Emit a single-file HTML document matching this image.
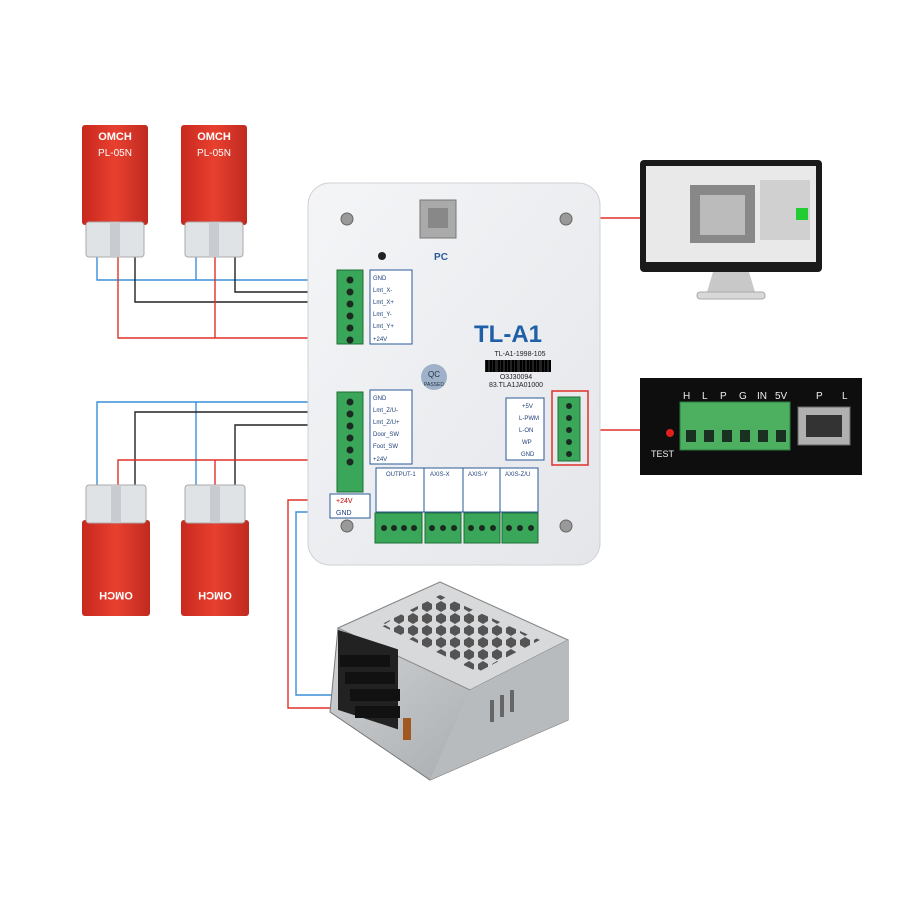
<!DOCTYPE html>
<html><head><meta charset="utf-8"><style>
html,body{margin:0;padding:0;background:#fff}
svg{display:block}
text{font-family:"Liberation Sans",sans-serif}
</style></head><body>
<svg width="900" height="900" viewBox="0 0 900 900">
<defs>
<linearGradient id="board" x1="0" y1="0" x2="1" y2="1"><stop offset="0" stop-color="#f4f5f7"/><stop offset="1" stop-color="#e4e6ea"/></linearGradient>
<linearGradient id="red" x1="0" y1="0" x2="1" y2="0"><stop offset="0" stop-color="#c8281e"/><stop offset=".5" stop-color="#e8402f"/><stop offset="1" stop-color="#c02a20"/></linearGradient>
<linearGradient id="psu" x1="0" y1="0" x2="1" y2="1"><stop offset="0" stop-color="#d8dadc"/><stop offset="1" stop-color="#9ea2a6"/></linearGradient>
<pattern id="hex" width="14" height="12" patternUnits="userSpaceOnUse"><polygon points="7,1 12,4 12,9 7,12 2,9 2,4" fill="#333"/></pattern>
</defs>

<!-- wires -->
<g fill="none" stroke-width="1.4">
<polyline stroke="#3a8fd8" points="97,240 97,280 340,280"/>
<polyline stroke="#3a8fd8" points="196,240 196,280"/>
<polyline stroke="#222" points="135,240 135,302 345,302"/>
<polyline stroke="#222" points="235,240 235,292 345,292"/>
<polyline stroke="#e0302a" points="118,240 118,338 345,338"/>
<polyline stroke="#e0302a" points="215,240 215,338"/>
<polyline stroke="#3a8fd8" points="97,495 97,402 345,402"/>
<polyline stroke="#3a8fd8" points="196,495 196,402"/>
<polyline stroke="#222" points="135,495 135,412 345,412"/>
<polyline stroke="#222" points="235,495 235,425 345,425"/>
<polyline stroke="#e0302a" points="118,495 118,460 345,460"/>
<polyline stroke="#e0302a" points="215,495 215,460"/>
<polyline stroke="#e0302a" points="440,218 640,218"/>
<polyline stroke="#e0302a" points="588,430 668,430"/>
<polyline stroke="#e0302a" points="330,500 288,500 288,708 385,708"/>
<polyline stroke="#3a8fd8" points="330,512 296,512 296,695 380,695"/>
</g>

<!-- sensors top -->
<g>
<rect x="82" y="125" width="66" height="100" rx="3" fill="url(#red)"/>
<rect x="86" y="222" width="58" height="35" rx="3" fill="#dfe3e6" stroke="#aaa"/>
<rect x="110" y="222" width="10" height="35" fill="#c8ccd0"/>
<text x="115" y="140" font-size="11" fill="#fff" text-anchor="middle" font-weight="bold">OMCH</text>
<text x="115" y="156" font-size="10" fill="#fff" text-anchor="middle">PL-05N</text>
<rect x="181" y="125" width="66" height="100" rx="3" fill="url(#red)"/>
<rect x="185" y="222" width="58" height="35" rx="3" fill="#dfe3e6" stroke="#aaa"/>
<rect x="209" y="222" width="10" height="35" fill="#c8ccd0"/>
<text x="214" y="140" font-size="11" fill="#fff" text-anchor="middle" font-weight="bold">OMCH</text>
<text x="214" y="156" font-size="10" fill="#fff" text-anchor="middle">PL-05N</text>
</g>
<!-- sensors bottom -->
<g>
<rect x="82" y="520" width="68" height="96" rx="3" fill="url(#red)"/>
<rect x="86" y="485" width="60" height="38" rx="3" fill="#dfe3e6" stroke="#aaa"/>
<rect x="111" y="485" width="10" height="38" fill="#c8ccd0"/>
<text x="116" y="600" font-size="11" fill="#fff" text-anchor="middle" font-weight="bold" transform="rotate(180 116 596)">OMCH</text>
<rect x="181" y="520" width="68" height="96" rx="3" fill="url(#red)"/>
<rect x="185" y="485" width="60" height="38" rx="3" fill="#dfe3e6" stroke="#aaa"/>
<rect x="210" y="485" width="10" height="38" fill="#c8ccd0"/>
<text x="215" y="600" font-size="11" fill="#fff" text-anchor="middle" font-weight="bold" transform="rotate(180 215 596)">OMCH</text>
</g>

<!-- board -->
<rect x="308" y="183" width="292" height="382" rx="22" fill="url(#board)" stroke="#cfd2d6"/>
<circle cx="347" cy="219" r="6" fill="#999" stroke="#666"/>
<circle cx="566" cy="219" r="6" fill="#999" stroke="#666"/>
<circle cx="347" cy="526" r="6" fill="#999" stroke="#666"/>
<circle cx="566" cy="526" r="6" fill="#999" stroke="#666"/>
<circle cx="382" cy="256" r="4" fill="#222"/>
<rect x="420" y="200" width="36" height="38" fill="#aaa" stroke="#777"/>
<rect x="428" y="208" width="20" height="20" fill="#888"/>
<text x="441" y="260" font-size="10" font-weight="bold" fill="#2a5a9a" text-anchor="middle">PC</text>
<text x="508" y="342" font-size="24" font-weight="bold" fill="#1f5fa8" text-anchor="middle">TL-A1</text>
<text x="520" y="356" font-size="7" fill="#222" text-anchor="middle">TL-A1-1998-105</text>
<rect x="485" y="360" width="66" height="12" fill="repeating-linear-gradient(90deg,#000 0 1px,#fff 1px 3px)"/>
<g fill="#222">
<rect x="485" y="360" width="1" height="12"/><rect x="488" y="360" width="2" height="12"/><rect x="492" y="360" width="1" height="12"/><rect x="495" y="360" width="3" height="12"/><rect x="500" y="360" width="1" height="12"/><rect x="503" y="360" width="2" height="12"/><rect x="507" y="360" width="1" height="12"/><rect x="510" y="360" width="2" height="12"/><rect x="514" y="360" width="1" height="12"/><rect x="517" y="360" width="3" height="12"/><rect x="522" y="360" width="1" height="12"/><rect x="525" y="360" width="2" height="12"/><rect x="529" y="360" width="1" height="12"/><rect x="532" y="360" width="2" height="12"/><rect x="536" y="360" width="1" height="12"/><rect x="539" y="360" width="3" height="12"/><rect x="544" y="360" width="1" height="12"/><rect x="547" y="360" width="2" height="12"/>
</g>
<text x="516" y="379" font-size="7" fill="#222" text-anchor="middle">O3J30094</text>
<text x="516" y="387" font-size="7" fill="#222" text-anchor="middle">83.TLA1JA01000</text>
<circle cx="434" cy="377" r="13" fill="#9fb1c9"/>
<text x="434" y="377" font-size="8" fill="#234" text-anchor="middle">QC</text>
<text x="434" y="386" font-size="5" fill="#234" text-anchor="middle">PASSED</text>

<!-- input1 -->
<rect x="337" y="270" width="26" height="74" fill="#3aa65a" stroke="#1f6f36"/>
<g fill="#1c2b20"><circle cx="350" cy="280" r="3.5"/><circle cx="350" cy="292" r="3.5"/><circle cx="350" cy="304" r="3.5"/><circle cx="350" cy="316" r="3.5"/><circle cx="350" cy="328" r="3.5"/><circle cx="350" cy="340" r="3.5"/></g>
<rect x="370" y="270" width="42" height="74" fill="#fff" stroke="#2a5a9a"/>
<g font-size="6" fill="#1f3f7a"><text x="373" y="280">GND</text><text x="373" y="292">Lmt_X-</text><text x="373" y="304">Lmt_X+</text><text x="373" y="316">Lmt_Y-</text><text x="373" y="328">Lmt_Y+</text><text x="373" y="341">+24V</text></g>
<!-- input2 -->
<rect x="337" y="392" width="26" height="100" fill="#3aa65a" stroke="#1f6f36"/>
<g fill="#1c2b20"><circle cx="350" cy="402" r="3.5"/><circle cx="350" cy="414" r="3.5"/><circle cx="350" cy="426" r="3.5"/><circle cx="350" cy="438" r="3.5"/><circle cx="350" cy="450" r="3.5"/><circle cx="350" cy="462" r="3.5"/></g>
<rect x="370" y="390" width="42" height="74" fill="#fff" stroke="#2a5a9a"/>
<g font-size="6" fill="#1f3f7a"><text x="373" y="400">GND</text><text x="373" y="412">Lmt_Z/U-</text><text x="373" y="424">Lmt_Z/U+</text><text x="373" y="436">Door_SW</text><text x="373" y="448">Foot_SW</text><text x="373" y="461">+24V</text></g>
<!-- power label -->
<rect x="330" y="494" width="40" height="24" fill="#fff" stroke="#2a5a9a"/>
<text x="336" y="503" font-size="7" fill="#c00">+24V</text><text x="336" y="515" font-size="7" fill="#1f3f7a">GND</text>
<!-- laser -->
<rect x="506" y="398" width="38" height="62" fill="#fff" stroke="#2a5a9a"/>
<g font-size="6" fill="#1f3f7a"><text x="522" y="408">+5V</text><text x="519" y="420">L-PWM</text><text x="519" y="432">L-ON</text><text x="522" y="444">WP</text><text x="521" y="456">GND</text></g>
<rect x="558" y="397" width="22" height="64" fill="#3aa65a" stroke="#1f6f36"/>
<g fill="#1c2b20"><circle cx="569" cy="406" r="3"/><circle cx="569" cy="418" r="3"/><circle cx="569" cy="430" r="3"/><circle cx="569" cy="442" r="3"/><circle cx="569" cy="454" r="3"/></g>
<rect x="552" y="391" width="36" height="74" fill="none" stroke="#e0302a" stroke-width="1.5"/>
<!-- outputs -->
<rect x="376" y="468" width="162" height="44" fill="#fff" stroke="#2a5a9a"/>
<g font-size="6" fill="#1f3f7a"><text x="386" y="476">OUTPUT-1</text><text x="430" y="476">AXIS-X</text><text x="468" y="476">AXIS-Y</text><text x="505" y="476">AXIS-Z/U</text></g>
<g stroke="#2a5a9a"><line x1="424" y1="468" x2="424" y2="512"/><line x1="463" y1="468" x2="463" y2="512"/><line x1="500" y1="468" x2="500" y2="512"/></g>
<g fill="#3aa65a" stroke="#1f6f36"><rect x="375" y="513" width="47" height="30"/><rect x="425" y="513" width="36" height="30"/><rect x="464" y="513" width="36" height="30"/><rect x="502" y="513" width="36" height="30"/></g>
<g fill="#1c2b20"><circle cx="384" cy="528" r="3"/><circle cx="394" cy="528" r="3"/><circle cx="404" cy="528" r="3"/><circle cx="414" cy="528" r="3"/><circle cx="432" cy="528" r="3"/><circle cx="443" cy="528" r="3"/><circle cx="454" cy="528" r="3"/><circle cx="471" cy="528" r="3"/><circle cx="482" cy="528" r="3"/><circle cx="493" cy="528" r="3"/><circle cx="509" cy="528" r="3"/><circle cx="520" cy="528" r="3"/><circle cx="531" cy="528" r="3"/></g>

<!-- monitor -->
<rect x="640" y="160" width="182" height="112" rx="4" fill="#1a1a1a"/>
<rect x="646" y="166" width="170" height="96" fill="#e9e9e9"/>
<rect x="690" y="185" width="65" height="58" fill="#888"/>
<rect x="700" y="195" width="45" height="40" fill="#bbb"/>
<rect x="760" y="180" width="50" height="60" fill="#d0d0d0"/>
<rect x="796" y="208" width="12" height="12" fill="#2c3"/>
<path d="M713 272 L749 272 L755 292 L707 292 Z" fill="#c8c8c8"/>
<rect x="697" y="292" width="68" height="7" rx="3" fill="#d8d8d8" stroke="#aaa"/>

<!-- black panel -->
<rect x="640" y="378" width="222" height="97" fill="#0e0e0e"/>
<g font-family="Liberation Serif" font-size="10" fill="#eee"><text x="683" y="399">H</text><text x="702" y="399">L</text><text x="720" y="399">P</text><text x="739" y="399">G</text><text x="757" y="399">IN</text><text x="775" y="399">5V</text><text x="816" y="399">P</text><text x="842" y="399">L</text></g>
<rect x="680" y="402" width="110" height="48" fill="#4cb060" stroke="#2d7a40"/>
<g fill="#1a3020"><rect x="686" y="430" width="10" height="12"/><rect x="704" y="430" width="10" height="12"/><rect x="722" y="430" width="10" height="12"/><rect x="740" y="430" width="10" height="12"/><rect x="758" y="430" width="10" height="12"/><rect x="776" y="430" width="10" height="12"/></g>
<rect x="798" y="407" width="52" height="38" fill="#b0b0b0" stroke="#666"/>
<rect x="806" y="415" width="36" height="22" fill="#333"/>
<circle cx="670" cy="433" r="4" fill="#e02020"/>
<text x="651" y="457" font-family="Liberation Serif" font-size="9" fill="#eee">TEST</text>

<!-- power supply -->
<path d="M338 628 L440 582 L568 640 L568 720 L430 780 L330 712 Z" fill="url(#psu)" stroke="#777"/>
<path d="M338 628 L440 582 L568 640 L470 690 Z" fill="#d7d9db" stroke="#888"/>
<path d="M380 625 L440 595 L540 640 L478 672 Z" fill="url(#hex)" opacity=".8"/>
<path d="M470 690 L568 640 L568 720 L430 780 Z" fill="#b8bbbe"/>
<rect x="338" y="640" width="60" height="80" fill="#222" transform="skewY(18) translate(0,-120)"/>
<g fill="#111"><rect x="340" y="655" width="50" height="12"/><rect x="345" y="672" width="50" height="12"/><rect x="350" y="689" width="50" height="12"/><rect x="355" y="706" width="45" height="12"/></g>
<rect x="403" y="718" width="8" height="22" fill="#a05a20"/>
<rect x="490" y="700" width="4" height="22" fill="#666"/><rect x="500" y="695" width="4" height="22" fill="#666"/><rect x="510" y="690" width="4" height="22" fill="#666"/>
</svg>
</body></html>
